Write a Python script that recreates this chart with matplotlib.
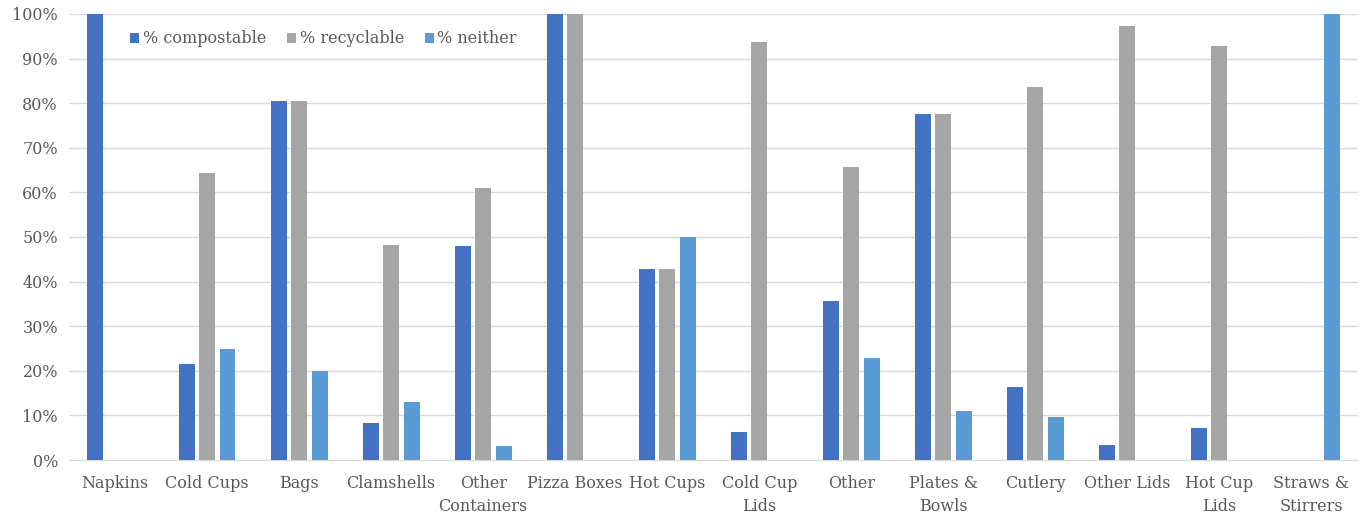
import matplotlib
matplotlib.use("Agg")
import matplotlib.pyplot as plt
import numpy as np
from matplotlib.ticker import PercentFormatter

# Share of each foodware item type by end-of-life option
categories = ["Napkins", "Cold Cups", "Bags", "Clamshells", "Other\nContainers",
              "Pizza Boxes", "Hot Cups", "Cold Cup\nLids", "Other", "Plates &\nBowls",
              "Cutlery", "Other Lids", "Hot Cup\nLids", "Straws &\nStirrers"]
compostable = [100, 21.5, 80.4, 8.3, 48.0, 100, 42.9, 6.3, 35.7, 77.6, 16.4, 3.4, 7.1, 0]
recyclable = [0, 64.3, 80.4, 48.3, 61.0, 100, 42.9, 93.8, 65.7, 77.6, 83.6, 97.4, 92.8, 0]
neither = [0, 25.0, 20.0, 13.0, 3.2, 0, 50.0, 0, 22.8, 11.0, 9.7, 0, 0, 100]

plt.rcParams["font.family"] = ["DejaVu Serif"]

fig = plt.figure(figsize=(13.62, 5.16), dpi=100)
ax = fig.add_axes([0.0507, 0.1085, 0.946, 0.8644])

x = np.arange(len(categories))
w = 0.173
step = 0.222
ax.bar(x - step, compostable, w, color="#4472C4", label="% compostable", zorder=3)
ax.bar(x, recyclable, w, color="#A5A5A5", label="% recyclable", zorder=3)
ax.bar(x + step, neither, w, color="#5B9BD5", label="% neither", zorder=3)

ax.set_xlim(-0.5, len(categories) - 0.5)
ax.set_ylim(0, 100)
ax.set_yticks(np.arange(0, 101, 10))
ax.yaxis.set_major_formatter(PercentFormatter(decimals=0))
ax.set_xticks(x)
ax.set_xticklabels(categories, linespacing=1.45)
ax.grid(axis="y", color="#D9D9D9", linewidth=1, zorder=0)
for s in ["top", "right", "left"]:
    ax.spines[s].set_visible(False)
ax.spines["bottom"].set_color("#D9D9D9")
ax.tick_params(axis="both", length=0, labelsize=11.5, colors="#595959")
ax.tick_params(axis="x", pad=11)
ax.tick_params(axis="y", pad=8)

leg = ax.legend(loc="center left", bbox_to_anchor=(0.036, 0.944), ncol=3, frameon=False,
                fontsize=11.5, handlelength=0.6, handleheight=0.6, handletextpad=0.2,
                columnspacing=1.3)
for t in leg.get_texts():
    t.set_color("#595959")

fig.savefig("out.png", dpi=100)
